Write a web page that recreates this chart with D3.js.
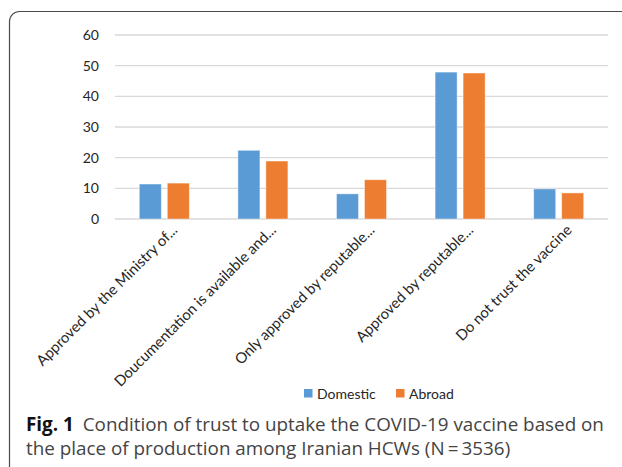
<!DOCTYPE html>
<html>
<head>
<meta charset="utf-8">
<script src="https://cdn.jsdelivr.net/npm/d3@7"></script>
<style>
  body { margin: 0; background: #fff; }
  svg { display: block; }
</style>
</head>
<body>
<div id="chart"></div>
<script>
const categories = [
  "Approved by the Ministry of...",
  "Doucumentation is available and...",
  "Only approved by reputable...",
  "Approved by reputable...",
  "Do not trust the vaccine"
];
const seriesNames = ["Domestic", "Abroad"];
const domestic = [11.4, 22.4, 8.2, 47.9, 9.8];
const abroad = [11.7, 18.9, 12.8, 47.6, 8.5];
const yTicks = [0, 10, 20, 30, 40, 50, 60];

const width = 622, height = 467;
const margin = { top: 35, left: 115, right: 14, bottom: 248 };
const colors = ["#5B9BD5", "#ED7D31"];
const axisFont = "Lato, 'Open Sans', sans-serif";
const capFont = "'Open Sans', sans-serif";

const svg = d3.select("#chart").append("svg")
  .attr("width", width)
  .attr("height", height);

// frame round the figure (runs off right and bottom)
svg.append("rect")
  .attr("x", 9.5).attr("y", 11.5)
  .attr("width", 700).attr("height", 600)
  .attr("rx", 10)
  .attr("fill", "#fff")
  .attr("stroke", "#4a4a4a")
  .attr("stroke-width", 1.2);

const x0 = d3.scaleBand()
  .domain(categories)
  .range([margin.left, width - margin.right]);

const x1 = d3.scaleBand()
  .domain(seriesNames)
  .range([0, x0.bandwidth()])
  .paddingInner(0.214)
  .paddingOuter(0.868);

const y = d3.scaleLinear()
  .domain([0, 60])
  .range([height - margin.bottom, margin.top]);

// grid
svg.append("g")
  .selectAll("line")
  .data(yTicks)
  .join("line")
  .attr("x1", margin.left)
  .attr("x2", width - margin.right)
  .attr("y1", d => y(d))
  .attr("y2", d => y(d))
  .attr("stroke", "#d9d9d9")
  .attr("stroke-width", 1.3);

// y labels
svg.append("g")
  .selectAll("text")
  .data(yTicks)
  .join("text")
  .attr("x", 99)
  .attr("y", d => y(d))
  .attr("dy", "0.36em")
  .attr("text-anchor", "end")
  .style("font-family", axisFont)
  .style("font-size", "14px")
  .style("fill", "#262626")
  .text(d => d);

// bars
const rows = categories.map((c, i) => ({ cat: c, values: [domestic[i], abroad[i]] }));

const groups = svg.append("g")
  .selectAll("g")
  .data(rows)
  .join("g")
  .attr("transform", d => `translate(${x0(d.cat)},0)`);

groups.selectAll("rect")
  .data(d => d.values.map((v, j) => ({ key: seriesNames[j], v: v, j: j })))
  .join("rect")
  .attr("x", d => x1(d.key))
  .attr("width", x1.bandwidth())
  .attr("y", d => y(d.v))
  .attr("height", d => y(0) - y(d.v))
  .attr("fill", d => colors[d.j])
  .attr("stroke", "#fff")
  .attr("stroke-opacity", 0.5)
  .attr("stroke-width", 0.8);

// rotated category labels
svg.append("g")
  .selectAll("text")
  .data(categories)
  .join("text")
  .attr("transform", d => `translate(${x0(d) + x0.bandwidth() / 2 + 14},${y(0) + 12}) rotate(-45)`)
  .attr("text-anchor", "end")
  .style("font-family", axisFont)
  .style("font-size", "14.8px")
  .style("fill", "#262626")
  .text(d => d);

// legend
const legend = svg.append("g")
  .attr("transform", "translate(304,389)");
const legX = [0, 92];
seriesNames.forEach((s, i) => {
  legend.append("rect")
    .attr("x", legX[i]).attr("y", 0)
    .attr("width", 8.5).attr("height", 8.5)
    .attr("fill", colors[i]);
  legend.append("text")
    .attr("x", legX[i] + 13).attr("y", 10)
    .style("font-family", axisFont)
    .style("font-size", "14px")
    .style("fill", "#262626")
    .text(s);
});

// caption
const cap = svg.append("text")
  .attr("x", 26).attr("y", 431)
  .style("font-family", capFont)
  .style("font-size", "19px")
  .style("fill", "#444");
cap.append("tspan").style("font-weight", "bold").style("fill", "#111").text("Fig. 1");
cap.append("tspan").attr("dx", 9).text("Condition of trust to uptake the COVID-19 vaccine based on");

const cap2 = svg.append("text")
  .attr("x", 26).attr("y", 455)
  .style("font-family", capFont)
  .style("font-size", "19px")
  .style("fill", "#444")
  .text("the place of production among Iranian HCWs (N\u2009=\u20093536)");

// squeeze caption lines to the width seen in the figure
const capW = cap.node().getComputedTextLength();
const fs = 19 * 569 / capW;
cap.style("font-size", fs + "px");
cap2.style("font-size", fs + "px");
</script>
</body>
</html>
